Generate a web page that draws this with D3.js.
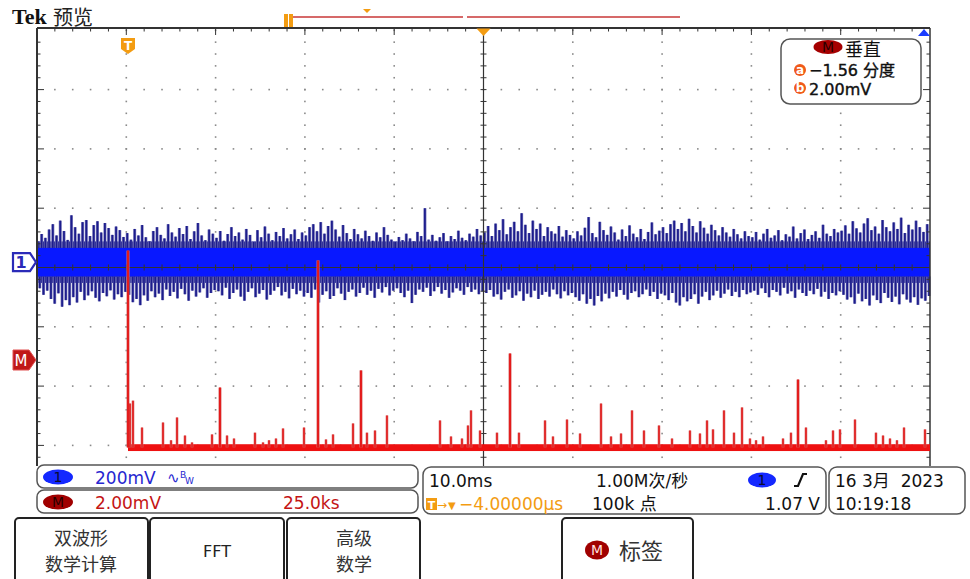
<!DOCTYPE html>
<html>
<head>
<meta charset="utf-8">
<title>Tek 预览</title>
<style>
body { margin: 0; background: #fff; }
svg { display: block; }
</style>
</head>
<body>
<div id="scope"></div>
<script src="https://cdn.jsdelivr.net/npm/d3@7"></script>
<script>
// channel 1 noise, peak values per sample bin (mV, relative to ch1 ground), 24 bins per division
const ch1Top = [
  70, 95, 82, 110, 128, 90, 140, 105, 75, 158, 118, 96, 135, 142, 88, 125, 138, 100, 132, 115, 92, 120, 108, 85,
  98, 76, 112, 90, 125, 84, 70, 105, 118, 92, 80, 128, 100, 86, 115, 95, 122, 78, 104, 132, 90, 74, 110, 96,
  82, 105, 72, 95, 118, 88, 100, 76, 112, 92, 68, 108, 84, 120, 96, 74, 102, 88, 115, 80, 94, 110, 78, 100,
  90, 118, 128, 104, 135, 96, 122, 140, 110, 86, 125, 98, 78, 112, 94, 80, 106, 88, 72, 100, 84, 118, 92, 76,
  68, 85, 74, 96, 80, 70, 102, 88, 182, 76, 92, 72, 84, 98, 70, 88, 78, 106, 82, 74, 96, 86, 112, 90,
  100, 122, 88, 130, 108, 145, 94, 118, 136, 104, 165, 126, 98, 140, 112, 130, 88, 118, 104, 96, 122, 86, 108, 92,
  80, 104, 90, 116, 152, 98, 84, 136, 108, 92, 120, 100, 76, 110, 88, 124, 96, 84, 112, 78, 102, 134, 94, 106,
  118, 98, 128, 140, 112, 132, 104, 146, 122, 100, 138, 116, 96, 126, 108, 90, 118, 100, 86, 112, 94, 80, 104, 88,
  84, 102, 76, 96, 112, 82, 90, 108, 74, 94, 86, 120, 80, 98, 110, 78, 92, 104, 82, 126, 96, 88, 112, 100,
  106, 124, 96, 138, 114, 100, 130, 148, 108, 120, 96, 142, 118, 104, 134, 112, 150, 98, 126, 110, 140, 118, 102, 128
];
const ch1Bot = [
  -88, -110, -96, -124, -140, -105, -150, -128, -145, -118, -136, -100, -128, -112, -98, -120, -132, -104, -115, -95, -126, -108, -118, -100,
  -110, -135, -124, -145, -112, -130, -98, -118, -106, -128, -92, -114, -100, -122, -90, -108, -130, -96, -116, -102, -88, -120, -104, -94,
  -98, -112, -86, -124, -104, -92, -116, -130, -100, -88, -118, -106, -94, -126, -110, -96, -84, -112, -100, -122, -90, -108, -96, -116,
  -104, -120, -92, -136, -110, -98, -124, -114, -88, -106, -128, -100, -92, -116, -104, -86, -110, -96, -120, -90, -102, -84, -112, -96,
  -88, -104, -118, -96, -138, -110, -92, -100, -86, -114, -98, -84, -106, -94, -120, -102, -88, -96, -110, -84, -100, -92, -108, -98,
  -104, -94, -116, -108, -126, -100, -92, -120, -112, -98, -130, -106, -118, -96, -124, -110, -100, -116, -92, -108, -122, -98, -112, -104,
  -118, -130, -108, -140, -124, -146, -114, -132, -106, -122, -100, -116, -94, -110, -126, -104, -98, -118, -108, -92, -114, -100, -124, -106,
  -112, -128, -104, -136, -146, -118, -132, -124, -108, -140, -116, -100, -128, -112, -96, -120, -106, -92, -114, -100, -118, -94, -108, -102,
  -96, -110, -88, -104, -118, -94, -100, -112, -86, -106, -98, -120, -92, -104, -114, -96, -108, -90, -116, -100, -124, -104, -112, -98,
  -110, -126, -118, -140, -106, -132, -124, -146, -112, -128, -138, -104, -120, -134, -116, -142, -108, -126, -136, -118, -144, -122, -130, -114
];
const ch1Dense = 70;   // mV, dense band half height
const ch1Core = 48;    // mV, bright core half height
const ch1Pos = 0.09;   // divisions
const ch1Scale = 200;  // mV/div

// math waveform (M): spikes (time ms, value mV)
const mathT = [10.19, 10.41, 10.75, 11.76, 14.11, 15.01, 15.68, 16.57, 17.36, 19.6, 20.49, 21.28, 22.06,
  24.41, 25.31, 25.98, 26.76, 27.55, 29.9, 31.47, 32.36, 33.15, 35.39, 36.28, 36.95, 37.85,
  39.19, 45.13, 46.36, 47.59, 48.26, 48.6, 49.61, 51.51, 52.97, 53.97, 56.89, 57.78, 59.35, 60.81,
  63.16, 64.28, 65.4, 66.63, 67.97, 69.65, 71.11, 73.12, 74.24, 75.03, 75.7, 76.93, 78.05, 78.95,
  79.84, 80.52, 81.3, 83.54, 84.43, 85.22, 86.11, 88.35, 89.14, 89.92, 91.6, 93.95, 94.74, 95.52,
  96.3, 97.09, 99.44];
const mathV = [3.69, -1.47, -1.37, -2.28, -2.11, -2.71, -1.94, -2.55, -2.78, -2.51, -0.93, -2.55, -2.65,
  -2.45, -2.78, -2.71, -2.65, -2.31, -2.28, 3.36, -2.68, -2.51, -2.14, -0.35, -2.45, -2.38,
  -1.87, -2.04, -2.58, -2.65, -2.21, -1.7, -2.38, -2.45, 0.22, -2.45, -2.04, -2.58, -2.01, -2.48,
  -1.47, -2.58, -2.48, -1.7, -2.38, -2.21, -2.65, -2.38, -2.48, -2.04, -2.34, -1.7, -2.45, -1.6,
  -2.65, -2.71, -2.58, -2.65, -2.45, -0.66, -2.28, -2.71, -2.38, -2.34, -2.01, -2.45, -2.55, -2.65,
  -2.71, -2.28, -2.34];
const mathStart = 10.19;   // ms
const mathBase = -2.95;    // mV
const mathNoise = [-2.84, -3.07];
const mathPos = -1.56;     // divisions
const mathScale = 2;       // mV/div

const W = 970, H = 579;
const SANS = "'DejaVu Sans', 'Noto Sans CJK SC', sans-serif";
const CJK = "'Noto Sans CJK SC', 'DejaVu Sans', sans-serif";
const svg = d3.select("#scope").append("svg").attr("width", W).attr("height", H)
  .style("font-family", SANS);

const x = d3.scaleLinear().domain([0, 100]).range([37, 930]);
const yDiv = d3.scaleLinear().domain([-4, 4]).range([504.7, 30.3]);
const y1 = v => yDiv(ch1Pos + v / ch1Scale);
const yM = v => yDiv(mathPos + v / mathScale);
const frameTop = 28, frameBottom = 466;

// graticule dots
const g = svg.append("g");
const dots = [];
d3.range(1, 10).filter(k => k !== 5).forEach(k => {
  d3.range(-20, 21).forEach(j => {
    const yy = yDiv(j * 0.2);
    if (yy > frameTop + 2 && yy < frameBottom - 2) dots.push([x(k * 10), yy]);
  });
});
d3.range(-3, 4).filter(k => k !== 0).forEach(k => {
  d3.range(1, 50).forEach(j => {
    const yy = yDiv(k);
    if (yy > frameTop && yy < frameBottom) dots.push([x(j * 2), yy]);
  });
});
g.selectAll("rect.dot").data(dots).join("rect").attr("class", "dot")
  .attr("x", d => d[0] - 0.8).attr("y", d => d[1] - 0.8)
  .attr("width", 1.6).attr("height", 1.6).attr("fill", "#8a8a8a");

// channel 1 waveform
const binW = 100 / ch1Top.length;
const xs = i => x((i + 0.25) * binW);
const xb = i => x((i + 0.75) * binW);
const wave = svg.append("g");
wave.append("rect").attr("x", x(0)).attr("width", x(100) - x(0))
  .attr("y", y1(ch1Dense)).attr("height", y1(-ch1Dense) - y1(ch1Dense)).attr("fill", "#1e1e94");
[["#7474b8", 3], ["#1c1c8c", 1.7]].forEach(([col, sw]) => {
  wave.append("g").selectAll("line").data(ch1Top).join("line")
    .attr("x1", (d, i) => xs(i)).attr("x2", (d, i) => xs(i))
    .attr("y1", y1(ch1Core)).attr("y2", d => y1(d))
    .attr("stroke", col).attr("stroke-width", sw);
  wave.append("g").selectAll("line").data(ch1Bot).join("line")
    .attr("x1", (d, i) => xb(i)).attr("x2", (d, i) => xb(i))
    .attr("y1", y1(-ch1Core)).attr("y2", d => y1(d))
    .attr("stroke", col).attr("stroke-width", sw);
});
wave.append("rect").attr("x", x(0)).attr("width", x(100) - x(0))
  .attr("y", y1(ch1Core)).attr("height", y1(-ch1Core) - y1(ch1Core)).attr("fill", "#0818ff");

// frame, center crosshair and ticks
const f = svg.append("g").attr("stroke", "#333");
f.append("line").attr("x1", x(0)).attr("x2", x(100)).attr("y1", frameTop).attr("y2", frameTop).attr("stroke-width", 2);
f.append("line").attr("x1", x(0)).attr("x2", x(0)).attr("y1", frameTop).attr("y2", frameBottom).attr("stroke-width", 2);
f.append("line").attr("x1", x(100)).attr("x2", x(100)).attr("y1", frameTop).attr("y2", frameBottom).attr("stroke-width", 1.5);
f.append("line").attr("x1", x(50)).attr("x2", x(50)).attr("y1", frameTop).attr("y2", frameBottom).attr("stroke-width", 1.2);
f.append("line").attr("x1", x(0)).attr("x2", x(100)).attr("y1", yDiv(0)).attr("y2", yDiv(0)).attr("stroke-width", 1);
const tickT = d3.range(1, 50).map(j => j * 2);
f.selectAll("line.tt").data(tickT).join("line").attr("class", "tt")
  .attr("x1", d => x(d)).attr("x2", d => x(d)).attr("y1", frameTop).attr("y2", d => frameTop + (d % 10 === 0 ? 7 : 3.5)).attr("stroke-width", 1);
f.selectAll("line.ct").data(tickT).join("line").attr("class", "ct")
  .attr("x1", d => x(d)).attr("x2", d => x(d)).attr("y1", yDiv(0) - 3).attr("y2", yDiv(0) + 3).attr("stroke-width", 1);
const tickV = d3.range(-19, 20).map(j => j * 0.2).filter(v => yDiv(v) > frameTop + 2 && yDiv(v) < frameBottom - 1);
f.selectAll("line.lt").data(tickV).join("line").attr("class", "lt")
  .attr("x1", x(0)).attr("x2", d => x(0) + (Math.abs(d - Math.round(d)) < 0.01 ? 7 : 3.5))
  .attr("y1", d => yDiv(d)).attr("y2", d => yDiv(d)).attr("stroke-width", 1);
f.selectAll("line.rt").data(tickV).join("line").attr("class", "rt")
  .attr("x1", x(100)).attr("x2", d => x(100) - (Math.abs(d - Math.round(d)) < 0.01 ? 7 : 3.5))
  .attr("y1", d => yDiv(d)).attr("y2", d => yDiv(d)).attr("stroke-width", 1);
f.selectAll("line.vt").data(tickV).join("line").attr("class", "vt")
  .attr("x1", x(50) - 3).attr("x2", x(50) + 3)
  .attr("y1", d => yDiv(d)).attr("y2", d => yDiv(d)).attr("stroke-width", 1);

// math waveform
svg.append("rect").attr("x", x(mathStart)).attr("width", x(100) - x(mathStart))
  .attr("y", yM(mathNoise[0])).attr("height", yM(mathNoise[1]) - yM(mathNoise[0])).attr("fill", "#ee1111");
[["#d87070", 2.6], ["#e41414", 1.4]].forEach(([col, sw]) => {
  svg.append("g").selectAll("line").data(mathT).join("line")
    .attr("x1", d => x(d)).attr("x2", d => x(d))
    .attr("y1", yM(mathBase)).attr("y2", (d, i) => yM(mathV[i]))
    .attr("stroke", col).attr("stroke-width", (d, i) => mathV[i] > -1 ? sw + 0.4 : sw);
});

// top record bar
const orange = "#f39c12";
svg.append("line").attr("x1", 293).attr("x2", 463).attr("y1", 17).attr("y2", 17).attr("stroke", "#c83737").attr("stroke-width", 1.5);
svg.append("line").attr("x1", 467).attr("x2", 680).attr("y1", 17).attr("y2", 17).attr("stroke", "#c83737").attr("stroke-width", 1.5);
svg.append("rect").attr("x", 284).attr("y", 14).attr("width", 4).attr("height", 13).attr("fill", orange);
svg.append("rect").attr("x", 289).attr("y", 14).attr("width", 4).attr("height", 13).attr("fill", orange);
svg.append("path").attr("d", "M363,9 L371,9 L367,13 Z").attr("fill", orange);

// markers
svg.append("path").attr("d", `M${x(50) - 7},28.5 L${x(50) + 7},28.5 L${x(50)},36 Z`).attr("fill", orange);
svg.append("path").attr("d", "M918,36 L930,36 L924,29 Z").attr("fill", "#1a3cff");
const tx = x(mathStart);
svg.append("path").attr("d", `M${tx - 7},38 h14 v11 l-7,5 l-7,-5 Z`).attr("fill", orange);
svg.append("text").attr("x", tx).attr("y", 50).attr("text-anchor", "middle").attr("fill", "#fff")
  .attr("font-size", 12).attr("font-weight", "bold").text("T");

const c1y = y1(0);
svg.append("path").attr("d", `M13,${c1y - 9} h17 l6,9 l-6,9 h-17 Z`).attr("fill", "#fff")
  .attr("stroke", "#2b2bb8").attr("stroke-width", 2.2);
svg.append("text").attr("x", 21).attr("y", c1y + 6).attr("text-anchor", "middle").attr("fill", "#2b2bb8")
  .attr("font-size", 16).attr("font-weight", "bold").text("1");
const mY = yDiv(mathPos);
svg.append("path").attr("d", `M13,${mY - 10} h16 l7,10 l-7,10 h-16 Z`).attr("fill", "#c01818")
  .attr("stroke", "#e05050").attr("stroke-width", 1);
svg.append("text").attr("x", 21).attr("y", mY + 6).attr("text-anchor", "middle").attr("fill", "#fff")
  .attr("font-size", 15).text("M");

// title
svg.append("text").attr("x", 12).attr("y", 24).style("font-family", "'Liberation Serif', serif")
  .attr("font-weight", "bold").attr("font-size", 22).attr("fill", "#111").text("Tek");
svg.append("text").attr("x", 53).attr("y", 25).style("font-family", CJK)
  .attr("font-size", 20).attr("fill", "#222").text("预览");

// helpers
function box(x0, y0, w, h, r) {
  svg.append("rect").attr("x", x0).attr("y", y0).attr("width", w).attr("height", h).attr("rx", r)
    .attr("fill", "#fff").attr("stroke", "#555").attr("stroke-width", 1.5);
}
function badge(cx, cy, rx, ry, fill, label, color) {
  svg.append("ellipse").attr("cx", cx).attr("cy", cy).attr("rx", rx).attr("ry", ry).attr("fill", fill);
  svg.append("text").attr("x", cx).attr("y", cy + 5).attr("text-anchor", "middle")
    .attr("font-size", 14).attr("fill", color).text(label);
}
function label(x0, y0, str, color, size, anchor) {
  return svg.append("text").attr("x", x0).attr("y", y0).attr("fill", color)
    .attr("font-size", size || 17).attr("text-anchor", anchor || "start")
    .style("white-space", "pre").text(str);
}

// vertical readout box
box(781, 39, 140, 65, 9);
badge(828, 47, 14.5, 7, "#a50000", "M", "#2a0000");
label(845, 56, "垂直", "#111", 18).style("font-family", CJK);
svg.append("circle").attr("cx", 800).attr("cy", 70).attr("r", 6).attr("fill", "#f05a1a");
label(800, 74, "a", "#fff", 12, "middle").attr("font-weight", "bold");
label(809, 75.5, "−1.56 分度", "#111", 16).attr("stroke", "#111").attr("stroke-width", 0.4);
svg.append("circle").attr("cx", 800).attr("cy", 88).attr("r", 6).attr("fill", "#f05a1a");
label(800, 92, "b", "#fff", 12, "middle").attr("font-weight", "bold");
label(809, 95, "2.00mV", "#111", 16).attr("stroke", "#111").attr("stroke-width", 0.4);

// status bars
box(37, 465, 381, 23, 7);
badge(58, 477, 15, 7.5, "#1428ff", "1", "#0a0a30");
label(95, 484, "200mV", "#2626d0");
label(167, 483, "∿", "#2626d0", 15);
label(180, 478, "B", "#2626d0", 9);
label(185, 484, "W", "#2626d0", 9);
box(37, 490, 381, 23, 7);
badge(58, 502, 15, 7.5, "#a00000", "M", "#2a0000");
label(95, 509, "2.00mV", "#c41414");
label(283, 509, "25.0ks", "#c41414");

box(423, 467, 403, 47, 8);
label(429, 487, "10.0ms", "#111");
label(596, 487, "1.00M次/秒", "#111");
badge(762, 480, 14, 7.5, "#1428ff", "1", "#0a0a30");
svg.append("path").attr("d", "M794,486 h4 l5,-12 h4").attr("fill", "none").attr("stroke", "#111").attr("stroke-width", 2.2);
svg.append("rect").attr("x", 426).attr("y", 498).attr("width", 11).attr("height", 12).attr("fill", orange);
label(431.5, 508.5, "T", "#fff", 11, "middle").attr("font-weight", "bold");
label(437, 509, "→", orange, 12);
label(448, 509, "▼", orange, 10);
label(459, 510, "−4.00000µs", orange);
label(592, 510, "100k 点", "#111");
label(820, 510, "1.07 V", "#111", 17, "end");

box(829, 467, 136, 47, 8);
label(835, 487, "16 3月  2023", "#111");
label(835, 510, "10:19:18", "#111");

// soft keys
const keys = [[15, 133], [150, 134], [287, 133], [562, 131]];
keys.forEach(k => svg.append("rect").attr("x", k[0]).attr("y", 518).attr("width", k[1]).attr("height", 70)
  .attr("rx", 4).attr("fill", "#fff").attr("stroke", "#222").attr("stroke-width", 2));
function keyText(cx, y0, lines, size, gap) {
  const t = svg.append("text").attr("x", cx).attr("y", y0).attr("text-anchor", "middle")
    .attr("fill", "#333").attr("font-size", size).style("font-family", CJK);
  lines.forEach((s, i) => t.append("tspan").attr("x", cx).attr("dy", i ? gap : 0).text(s));
}
keyText(81, 545, ["双波形", "数学计算"], 18, 26);
label(217, 557, "FFT", "#222", 16, "middle");
keyText(354, 545, ["高级", "数学"], 18, 26);
badge(597, 550, 12, 9.5, "#a00000", "M", "#ffdede");
keyText(641, 559, ["标签"], 22, 0);
</script>
</body>
</html>
